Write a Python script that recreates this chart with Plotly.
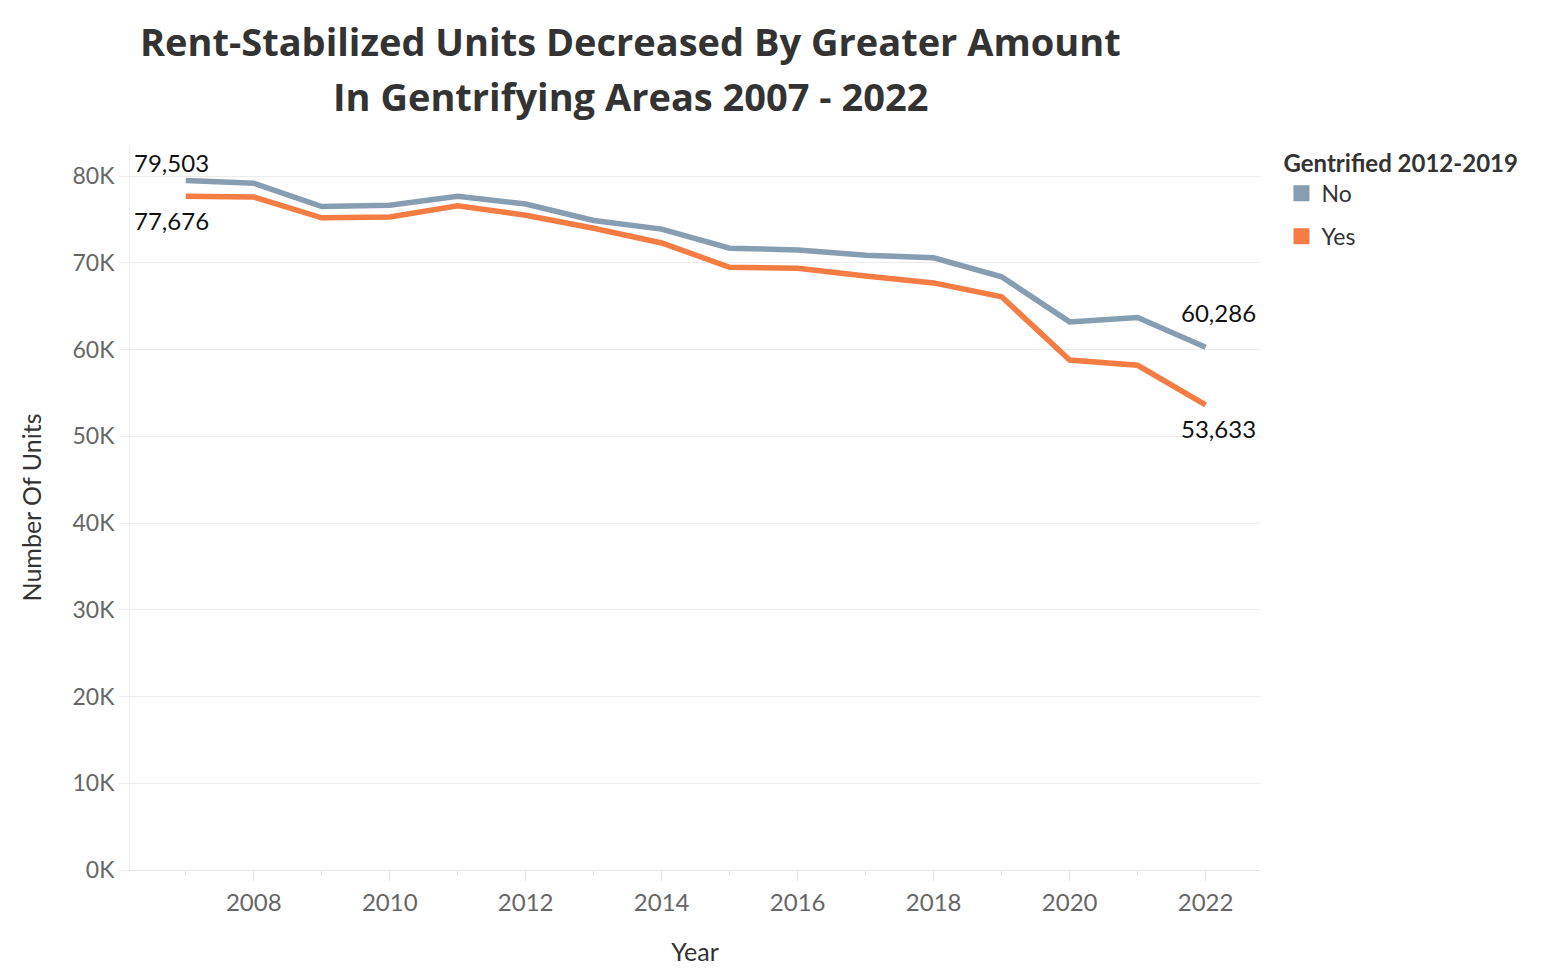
import plotly.graph_objects as go

years = list(range(2007, 2023))
no_units = [79503, 79200, 76500, 76650, 77700, 76800, 74900, 73900, 71700, 71500, 70900, 70600, 68400, 63200, 63700, 60286]
yes_units = [77676, 77600, 75200, 75300, 76600, 75500, 74000, 72300, 69500, 69400, 68500, 67700, 66100, 58800, 58200, 53633]
series_names = ["No", "Yes"]
series_colors = ["#869db2", "#f57c43"]
y_tick_vals = [0, 10000, 20000, 30000, 40000, 50000, 60000, 70000, 80000]
y_tick_text = ["0K", "10K", "20K", "30K", "40K", "50K", "60K", "70K", "80K"]
x_tick_vals = [2008, 2010, 2012, 2014, 2016, 2018, 2020, 2022]
title_lines = ["Rent-Stabilized Units Decreased By Greater Amount", "In Gentrifying Areas 2007 - 2022"]

FONT = "Lato, Open Sans, sans-serif"

fig = go.Figure()
for name, vals, col in zip(series_names, [no_units, yes_units], series_colors):
    fig.add_trace(go.Scatter(x=years, y=vals, mode="lines", name=name,
                             line=dict(color=col, width=5.5), showlegend=False,
                             hovertemplate="%{x}: %{y:,}<extra>" + name + "</extra>"))
    fig.add_trace(go.Scatter(x=[None], y=[None], mode="markers", name=name,
                             legendgroup=name,
                             marker=dict(color=col, symbol="square", size=26),
                             showlegend=True))

label_font = dict(family=FONT, size=24, color="#111111")
fig.add_annotation(x=years[0], y=no_units[0], text=f"{no_units[0]:,}", showarrow=False,
                   xanchor="center", yanchor="bottom", yshift=2, xshift=-14, font=label_font)
fig.add_annotation(x=years[0], y=yes_units[0], text=f"{yes_units[0]:,}", showarrow=False,
                   xanchor="center", yanchor="top", yshift=-8, xshift=-14, font=label_font)
fig.add_annotation(x=years[-1], y=no_units[-1], text=f"{no_units[-1]:,}", showarrow=False,
                   xanchor="center", yanchor="bottom", yshift=18, xshift=13, font=label_font)
fig.add_annotation(x=years[-1], y=yes_units[-1], text=f"{yes_units[-1]:,}", showarrow=False,
                   xanchor="center", yanchor="top", yshift=-7, xshift=13, font=label_font)

# title as two annotation lines
fig.add_annotation(xref="paper", yref="paper", x=0.4425, y=1.1435, text=f"<b>{title_lines[0]}</b>",
                   showarrow=False, xanchor="center", yanchor="middle",
                   font=dict(family="Open Sans, sans-serif", size=38, color="#333333"))
fig.add_annotation(xref="paper", yref="paper", x=0.4425, y=1.0675, text=f"<b>{title_lines[1]}</b>",
                   showarrow=False, xanchor="center", yanchor="middle",
                   font=dict(family="Open Sans, sans-serif", size=38, color="#333333"))

fig.update_layout(
    width=1560, height=980,
    paper_bgcolor="white", plot_bgcolor="white",
    margin=dict(l=122, r=308, t=137, b=118),
    legend=dict(title=dict(text="<b>Gentrified 2012-2019</b>",
                           font=dict(family=FONT, size=24, color="#333333")),
                x=1.019, xanchor="left", y=1.006, yanchor="top",
                font=dict(family=FONT, size=23, color="#333333"),
                itemsizing="trace", tracegroupgap=10),
    font=dict(family=FONT),
)
fig.update_xaxes(range=[2006.18, 2022.8], tickvals=x_tick_vals, showgrid=False,
                 ticks="outside", ticklen=10, tickcolor="#e0e0e0",
                 minor=dict(dtick=1, ticks="outside", ticklen=5, tickcolor="#e8e8e8"),
                 showline=True, linecolor="#e6e6e6", linewidth=1,
                 ticklabelstandoff=1,
                 tickfont=dict(size=24, color="#666666"),
                 title=dict(text="Year", font=dict(size=25, color="#333333"), standoff=28))
fig.update_yaxes(range=[0, 83600], tickvals=y_tick_vals, ticktext=y_tick_text,
                 showgrid=True, gridcolor="#ececec", gridwidth=1, zeroline=False,
                 showline=True, linecolor="#eeeeee", ticks="outside", ticklen=10, tickcolor="#eeeeee",
                 tickfont=dict(size=23, color="#666666"),
                 title=dict(text="Number Of Units", font=dict(size=25, color="#333333"), standoff=23))

fig.write_html("out.html")
